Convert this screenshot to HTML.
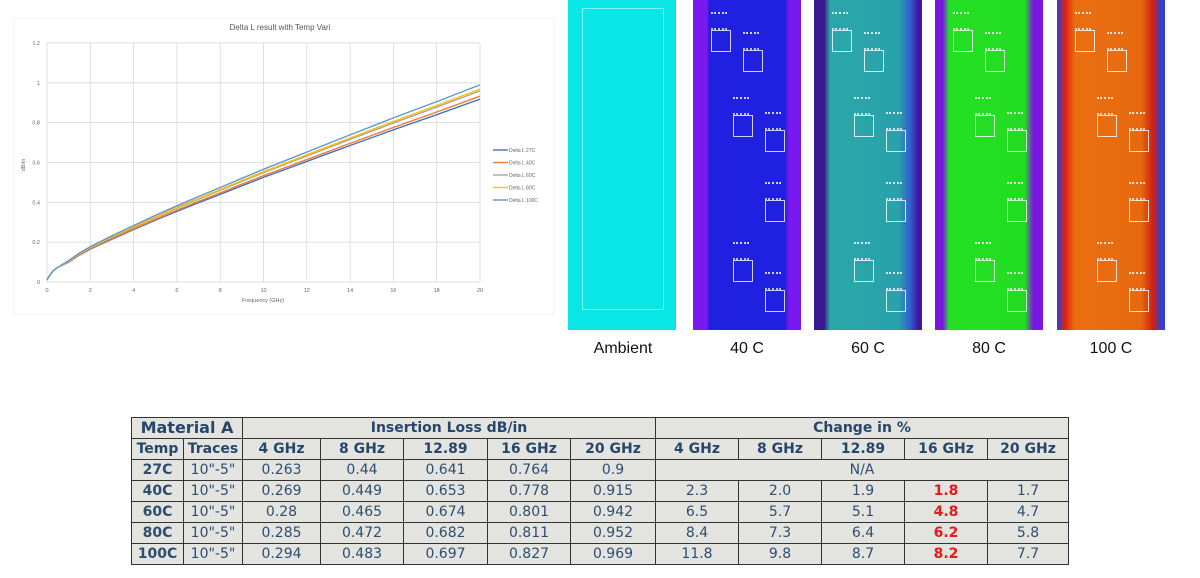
<!DOCTYPE html>
<html><head><meta charset="utf-8"><style>
body{margin:0;width:1200px;height:578px;background:#fff;position:relative;overflow:hidden;font-family:"Liberation Sans",sans-serif}
.p{position:absolute;top:0;height:330px;width:108px;overflow:hidden}
.bx{position:absolute;border:1px solid rgba(255,255,255,0.8);width:18px;height:20px}
.tx{position:absolute;width:16px;height:14px;border-top:2px dotted rgba(255,255,255,0.8);border-bottom:2px dotted rgba(255,255,255,0.7)}
.lab{position:absolute;top:340px;font-size:16px;color:#111;text-align:center;width:140px}
table{position:absolute;left:131px;top:417px;border-collapse:collapse;table-layout:fixed;background:#e3e4e0;font-family:"DejaVu Sans","Liberation Sans",sans-serif}
td{border:1.5px solid #333;text-align:center;color:#2f4d6e;font-size:14px;padding:0;height:20px;line-height:20px;white-space:nowrap;overflow:hidden}
.h td{font-weight:bold;color:#27466a}
td.b{font-weight:bold}
td.r{color:#e21b1b;font-weight:bold}
</style></head><body>
<svg width="560" height="320" style="position:absolute;left:0;top:0" id="ch">
<rect x="14" y="18" width="540" height="296" fill="#fff" stroke="#f0f0f0"/>
<text x="280" y="30" font-size="8" fill="#555" text-anchor="middle" font-family="Liberation Sans">Delta L result with Temp Vari</text>
<g id="grid" stroke="#d9d9d9" stroke-width="0.8"></g>
<g id="lbl" font-size="5.5" fill="#666" font-family="Liberation Sans"></g>
<text x="263" y="302" font-size="5.5" fill="#666" text-anchor="middle">Frequency (GHz)</text>
<text x="25" y="165" font-size="5.5" fill="#666" transform="rotate(-90 25 165)" text-anchor="middle">dB/in</text>
<g id="ser" fill="none" stroke-width="1.4"></g>
<g id="leg" font-size="5" fill="#666"></g>
</svg>
<div class="p" style="left:568px;background:#0ae6e6"><div style="position:absolute;left:14px;top:8px;width:80px;height:300px;border:1px solid #7ff5f5"></div></div>
<div class="p" style="left:693px;background:linear-gradient(90deg,#7a18f0 0,#7a18f0 14px,#2020e0 16px,#2020e0 92px,#7a18f0 96px)"></div>
<div class="p" style="left:814px;background:linear-gradient(90deg,#3a1890 0,#3a1890 10px,#2aa7a8 16px,#29a2ab 85px,#3060d0 96px,#4018a0 104px)"></div>
<div class="p" style="left:935px;background:linear-gradient(90deg,#7a18e0 0,#7a18e0 8px,#24e024 14px,#22dc22 90px,#7a18e0 98px)"></div>
<div class="p" style="left:1057px;background:linear-gradient(90deg,#2040e0 0,#e02010 8px,#ea6e10 18px,#e86a10 84px,#d02010 96px,#3040d0 104px)"></div>
<div class="lab" style="left:553px">Ambient</div>
<div class="lab" style="left:677px">40 C</div>
<div class="lab" style="left:798px">60 C</div>
<div class="lab" style="left:919px">80 C</div>
<div class="lab" style="left:1041px">100 C</div>
<table>
<colgroup><col style="width:52px"><col style="width:59px"><col style="width:78px"><col style="width:83px"><col style="width:84px"><col style="width:83px"><col style="width:85px"><col style="width:83px"><col style="width:83px"><col style="width:83px"><col style="width:83px"><col style="width:81px"></colgroup>
<tr class="h"><td colspan="2" style="font-size:16px">Material A</td><td colspan="5">Insertion Loss dB/in</td><td colspan="5">Change in %</td></tr>
<tr class="h"><td>Temp</td><td>Traces</td><td>4 GHz</td><td>8 GHz</td><td>12.89</td><td>16 GHz</td><td>20 GHz</td><td>4 GHz</td><td>8 GHz</td><td>12.89</td><td>16 GHz</td><td>20 GHz</td></tr>
<tr><td class="b">27C</td><td>10"-5"</td><td>0.263</td><td>0.44</td><td>0.641</td><td>0.764</td><td>0.9</td><td colspan="5">N/A</td></tr>
<tr><td class="b">40C</td><td>10"-5"</td><td>0.269</td><td>0.449</td><td>0.653</td><td>0.778</td><td>0.915</td><td>2.3</td><td>2.0</td><td>1.9</td><td class="r">1.8</td><td>1.7</td></tr>
<tr><td class="b">60C</td><td>10"-5"</td><td>0.28</td><td>0.465</td><td>0.674</td><td>0.801</td><td>0.942</td><td>6.5</td><td>5.7</td><td>5.1</td><td class="r">4.8</td><td>4.7</td></tr>
<tr><td class="b">80C</td><td>10"-5"</td><td>0.285</td><td>0.472</td><td>0.682</td><td>0.811</td><td>0.952</td><td>8.4</td><td>7.3</td><td>6.4</td><td class="r">6.2</td><td>5.8</td></tr>
<tr><td class="b">100C</td><td>10"-5"</td><td>0.294</td><td>0.483</td><td>0.697</td><td>0.827</td><td>0.969</td><td>11.8</td><td>9.8</td><td>8.7</td><td class="r">8.2</td><td>7.7</td></tr>
</table>
<script>
var NS="http://www.w3.org/2000/svg";
function el(t,a,p,tx){var e=document.createElementNS(NS,t);for(var k in a)e.setAttribute(k,a[k]);if(tx)e.textContent=tx;document.getElementById(p).appendChild(e);return e;}
function X(f){return 47+f*21.65}function Y(v){return 282-v*199.2}
for(var i=0;i<=10;i++){el("line",{x1:X(i*2),x2:X(i*2),y1:Y(1.2),y2:Y(0)},"grid");el("text",{x:X(i*2),y:292,"text-anchor":"middle"},"lbl",String(i*2));}
for(var j=0;j<=6;j++){el("line",{x1:X(0),x2:X(20),y1:Y(j*0.2),y2:Y(j*0.2)},"grid");el("text",{x:40,y:Y(j*0.2)+2,"text-anchor":"end"},"lbl",String(+(j*0.2).toFixed(1)));}
var base=[[0,0.01],[0.1,0.03],[0.3,0.058],[0.5,0.074],[1,0.1],[1.5,0.135],[2,0.165],[3,0.215],[4,0.263],[5,0.31],[6,0.355],[7,0.398],[8,0.44],[9,0.483],[10,0.525],[11,0.565],[12.89,0.641],[14,0.685],[16,0.764],[18,0.84],[20,0.918]];
var s=[["#4472c4",1,"Delta L 27C"],["#ed7d31",1.016,"Delta L 40C"],["#a5a5a5",1.045,"Delta L 60C"],["#ffc000",1.055,"Delta L 80C"],["#5b9bd5",1.078,"Delta L 100C"]];
s.forEach(function(q,k){var d=base.map(function(p,i){var m=p[0]<1?1:q[1];return (i?"L":"M")+X(p[0]).toFixed(1)+" "+Y(p[1]*m).toFixed(1)}).join(" ");
el("path",{d:d,stroke:q[0]},"ser");var y=150+k*12.5;el("line",{x1:493,x2:508,y1:y,y2:y,stroke:q[0],"stroke-width":1.4},"leg");el("text",{x:509,y:y+1.8},"leg",q[2]);});
// hotspot boxes in panels
var pos=[[18,30],[50,50],[40,115],[72,130],[72,200],[40,260],[72,290]];
[693,814,935,1057].forEach(function(L){pos.forEach(function(p){var t=document.createElement("div");t.className="tx";t.style.left=(L+p[0])+"px";t.style.top=(p[1]-18)+"px";document.body.appendChild(t);var b=document.createElement("div");b.className="bx";b.style.left=(L+p[0])+"px";b.style.top=p[1]+"px";document.body.appendChild(b);});});
</script>
</body></html>
